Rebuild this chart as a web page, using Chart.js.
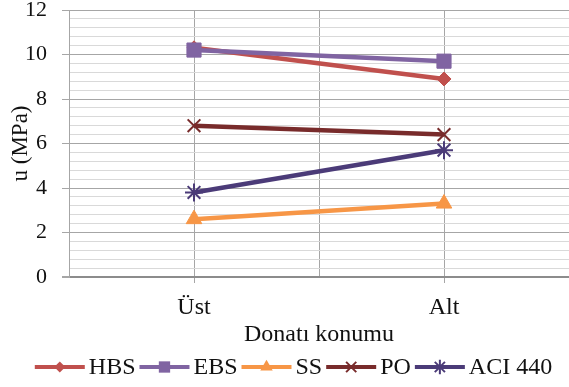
<!DOCTYPE html>
<html><head><meta charset="utf-8">
<script src="https://cdn.jsdelivr.net/npm/chart.js@4"></script>
<style>html,body{margin:0;padding:0;background:#fff}#wrap{width:569px;height:387px;position:relative}</style>
</head><body><div id="wrap"><canvas id="c" width="569" height="387"></canvas></div>
<script>
const categories = ['Üst', 'Alt'];
const seriesNames = ['HBS', 'EBS', 'SS', 'PO', 'ACI 440'];
const hbs = [10.3, 8.9];
const ebs = [10.2, 9.7];
const ss = [2.6, 3.3];
const po = [6.8, 6.4];
const aci440 = [3.8, 5.7];
const yMajorStep = 2;
const yMinorStep = 0.4;
const yMin = 0, yMax = 12;

const seriesValues = [hbs, ebs, ss, po, aci440];
const seriesColors = ['#c0504d', '#8064a2', '#f79646', '#782b2b', '#4b3b78'];
const seriesMarkers = ['rectRot', 'rect', 'triangle', 'crossRot', 'star'];
const markerRadius = [7, 10, 9, 9, 9];
const FONT = "'Liberation Serif', 'Times New Roman', serif";

function isMajor(v) { return Math.abs(v - Math.round(v / yMajorStep) * yMajorStep) < 1e-6; }
function isWhole(v) { return Math.abs(v - Math.round(v)) < 1e-6; }

const datasets = seriesNames.map((name, i) => ({
  label: name,
  data: seriesValues[i].map((v, k) => ({ x: k, y: v })),
  borderColor: seriesColors[i],
  backgroundColor: seriesColors[i],
  borderWidth: 4.5,
  pointStyle: seriesMarkers[i],
  pointRadius: markerRadius[i],
  pointBackgroundColor: seriesColors[i],
  pointBorderColor: seriesColors[i],
  pointBorderWidth: (seriesMarkers[i] === 'crossRot' || seriesMarkers[i] === 'star') ? 2 : 1,
  order: seriesNames.length - i,
  tension: 0
}));

function drawMarker(ctx, style, r, x, y, color) {
  ctx.save();
  ctx.fillStyle = color; ctx.strokeStyle = color; ctx.lineWidth = 2;
  ctx.beginPath();
  if (style === 'rectRot') {
    ctx.moveTo(x, y - r); ctx.lineTo(x + r, y); ctx.lineTo(x, y + r); ctx.lineTo(x - r, y); ctx.closePath(); ctx.fill();
  } else if (style === 'rect') {
    const s = r * Math.SQRT1_2; ctx.rect(x - s, y - s, 2 * s, 2 * s); ctx.fill();
  } else if (style === 'triangle') {
    ctx.moveTo(x, y - r); ctx.lineTo(x + r * 0.866, y + r * 0.5); ctx.lineTo(x - r * 0.866, y + r * 0.5); ctx.closePath(); ctx.fill();
  } else {
    const d = r * Math.SQRT1_2;
    ctx.moveTo(x - d, y - d); ctx.lineTo(x + d, y + d); ctx.moveTo(x - d, y + d); ctx.lineTo(x + d, y - d);
    if (style === 'star') { ctx.moveTo(x, y - r); ctx.lineTo(x, y + r); }
    ctx.stroke();
  }
  ctx.restore();
}

const legendPlugin = {
  id: 'lineLegend',
  afterDraw(chart) {
    const ctx = chart.ctx;
    const lineLen = 50, gapText = 4, gapItem = 4, yC = 367;
    ctx.save();
    ctx.font = "24px " + FONT;
    const widths = seriesNames.map(n => ctx.measureText(n).width);
    let total = 0;
    widths.forEach((w, i) => { total += lineLen + gapText + w + (i < widths.length - 1 ? gapItem : 0); });
    let x = 293.5 - total / 2;
    seriesNames.forEach((n, i) => {
      ctx.strokeStyle = seriesColors[i]; ctx.lineWidth = 4;
      ctx.beginPath(); ctx.moveTo(x, yC); ctx.lineTo(x + lineLen, yC); ctx.stroke();
      drawMarker(ctx, seriesMarkers[i], markerRadius[i] * 0.8, x + lineLen / 2, yC, seriesColors[i]);
      ctx.fillStyle = '#111'; ctx.textBaseline = 'middle'; ctx.textAlign = 'left';
      ctx.fillText(n, x + lineLen + gapText, yC + 1);
      x += lineLen + gapText + widths[i] + gapItem;
    });
    ctx.restore();
  }
};

new Chart(document.getElementById('c'), {
  type: 'line',
  data: { datasets },
  options: {
    responsive: false,
    animation: false,
    layout: { autoPadding: false, padding: { top: 10, right: 0, bottom: 38, left: 0 } },
    plugins: { legend: { display: false }, tooltip: { enabled: false } },
    scales: {
      x: {
        type: 'linear', min: -0.5, max: categories.length - 0.5,
        afterFit: s => { s.height = 72; s.paddingLeft = 0; s.paddingRight = 0; },
        afterBuildTicks: s => {
          const t = [];
          for (let v = -0.5; v <= categories.length - 0.5 + 1e-9; v += 0.5) t.push({ value: v });
          s.ticks = t;
        },
        ticks: {
          autoSkip: false, maxRotation: 0, padding: 10, color: '#111',
          font: { family: FONT, size: 24 },
          callback: v => isWhole(v) ? categories[Math.round(v)] : ''
        },
        grid: {
          color: '#a6a6a6', lineWidth: 1, tickLength: 6,
          tickColor: c => (c.tick && isWhole(c.tick.value)) ? '#a6a6a6' : 'rgba(0,0,0,0)'
        },
        border: { display: false },
        title: { display: true, text: 'Donatı konumu', color: '#111', font: { family: FONT, size: 24 }, padding: { top: 0, bottom: 0 } }
      },
      y: {
        min: yMin, max: yMax,
        afterFit: s => { s.width = 69; s.paddingTop = 0; s.paddingBottom = 0; },
        ticks: {
          stepSize: yMinorStep, autoSkip: false, padding: 15, color: '#111',
          font: { family: FONT, size: 22 },
          callback: v => isMajor(v) ? String(Math.round(v)) : ''
        },
        grid: {
          lineWidth: c => (c.tick && Math.abs(c.tick.value) < 1e-6) ? 2 : 1,
          color: c => {
            if (!c.tick) return '#d4d4d4';
            if (Math.abs(c.tick.value) < 1e-6) return '#8c8c8c';
            return isMajor(c.tick.value) ? '#a6a6a6' : '#d9d9d9';
          },
          tickLength: 7,
          tickColor: c => (c.tick && isMajor(c.tick.value)) ? '#a6a6a6' : 'rgba(0,0,0,0)'
        },
        border: { display: true, color: '#a6a6a6' },
        title: { display: true, text: 'u (MPa)', color: '#111', font: { family: FONT, size: 23 }, padding: { top: 7, bottom: 0 } }
      }
    }
  },
  plugins: [legendPlugin]
});
</script></body></html>
